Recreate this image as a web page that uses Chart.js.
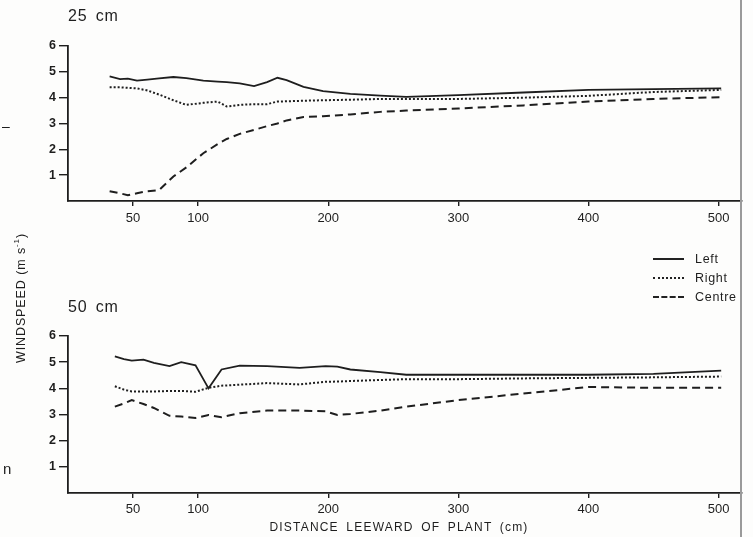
<!DOCTYPE html>
<html>
<head>
<meta charset="utf-8">
<script src="https://cdn.jsdelivr.net/npm/chart.js@4.4.1/dist/chart.umd.min.js"></script>
<style>
  html, body { margin: 0; padding: 0; background: #fdfdfc; }
  #page { position: relative; width: 753px; height: 537px; overflow: hidden; font-family: "Liberation Sans", Arial, sans-serif; color: #1e1e1e; }
  canvas { position: absolute; left: 0; }
  .lbl { position: absolute; white-space: nowrap; }
  .panel { font-size: 16px; letter-spacing: 0.8px; word-spacing: 3px; left: 68px; }
  #ytitle { font-size: 12.5px; letter-spacing: 0.9px; left: 20px; top: 298px; transform: translate(-50%, -50%) rotate(-90deg); }
  #xtitle { font-size: 12px; letter-spacing: 1.2px; word-spacing: 3px; left: 399px; top: 527px; transform: translate(-50%, -50%); }
  #legend { position: absolute; left: 653px; top: 249px; font-size: 12.5px; letter-spacing: 0.7px; }
  #legend div { height: 19px; display: flex; align-items: center; }
  #legend span.ln { display: inline-block; width: 31px; margin-right: 11px; border-top: 2px solid #222; }
  #edge { position: absolute; left: 740px; top: 0; width: 2px; height: 537px; background: #9a9a9a; }
</style>
</head>
<body>
<div id="page">
  <canvas id="topChart" width="753" height="228" style="top:0"></canvas>
  <canvas id="bottomChart" width="753" height="307" style="top:230px"></canvas>
  <div id="edge"></div>
  <div class="lbl panel" style="top:7px">25 cm</div>
  <div class="lbl panel" style="top:298px">50 cm</div>
  <div class="lbl" id="ytitle">WINDSPEED (m s<sup style="font-size:8px">-1</sup>)</div>
  <div class="lbl" id="xtitle">DISTANCE LEEWARD OF PLANT (cm)</div>
  <div class="lbl" style="left:3px; top:460px; font-size:15px">n</div>
  <div class="lbl" style="left:2px; top:118px; font-size:14px">–</div>
  <div id="legend">
    <div><span class="ln"></span>Left</div>
    <div><span class="ln" style="border-top-style:dotted"></span>Right</div>
    <div><span class="ln" style="border-top-style:dashed"></span>Centre</div>
  </div>
</div>
<script>
// valeurs (vitesse du vent en m/s)
const xTickValues = [50, 100, 200, 300, 400, 500];
const yTickValues = [0, 1, 2, 3, 4, 5, 6];

// panneau 25 cm
const dist25 = [32, 40, 46, 53, 61, 70, 81, 91, 104, 115, 122, 132, 143, 153, 161, 168, 181, 196, 217, 240, 260, 300, 350, 400, 450, 502];
const left25 = [4.82, 4.72, 4.74, 4.66, 4.7, 4.75, 4.8, 4.76, 4.66, 4.62, 4.6, 4.55, 4.45, 4.6, 4.77, 4.68, 4.42, 4.25, 4.15, 4.08, 4.03, 4.1, 4.2, 4.3, 4.33, 4.36];
const right25 = [4.4, 4.4, 4.38, 4.36, 4.28, 4.12, 3.9, 3.72, 3.8, 3.85, 3.66, 3.72, 3.75, 3.75, 3.85, 3.86, 3.88, 3.9, 3.92, 3.95, 3.95, 3.95, 4.0, 4.07, 4.22, 4.3];
const centre25 = [0.38, 0.3, 0.22, 0.3, 0.38, 0.42, 0.95, 1.3, 1.85, 2.2, 2.4, 2.6, 2.75, 2.9, 3.0, 3.12, 3.25, 3.28, 3.35, 3.45, 3.5, 3.58, 3.7, 3.85, 3.95, 4.02];

// panneau 50 cm
const dist50 = [36, 43, 49, 58, 66, 78, 87, 98, 108, 118, 132, 153, 178, 198, 207, 217, 240, 260, 300, 350, 400, 450, 502];
const left50 = [5.22, 5.12, 5.06, 5.1, 4.97, 4.85, 5.0, 4.88, 4.0, 4.72, 4.87, 4.85, 4.78, 4.85, 4.83, 4.72, 4.62, 4.52, 4.52, 4.52, 4.52, 4.55, 4.68];
const right50 = [4.08, 3.95, 3.88, 3.88, 3.88, 3.9, 3.9, 3.87, 4.02, 4.1, 4.14, 4.2, 4.15, 4.25, 4.26, 4.28, 4.32, 4.35, 4.35, 4.38, 4.4, 4.42, 4.45];
const centre50 = [3.3, 3.42, 3.55, 3.4, 3.25, 2.95, 2.92, 2.87, 2.98, 2.9, 3.05, 3.15, 3.15, 3.12, 2.98, 3.02, 3.15, 3.3, 3.55, 3.8, 4.05, 4.02, 4.02];

const INK = '#1e1e1e';

function toPoints(xs, ys) {
  return xs.map((x, i) => ({ x: x, y: ys[i] }));
}

function lineSet(label, xs, ys, dash) {
  return {
    label: label,
    data: toPoints(xs, ys),
    borderColor: INK,
    borderWidth: dash.length ? 2 : 1.8,
    borderDash: dash,
    pointRadius: 0,
    tension: 0,
    fill: false,
  };
}

// cria um painel; areaTop/axisY em pixels do canvas
function makePanel(id, xs, left, right, centre, areaTop, axisY, labelPad) {
  const canvas = document.getElementById(id);
  const H = canvas.height;
  return new Chart(canvas.getContext('2d'), {
    type: 'line',
    data: {
      datasets: [
        lineSet('Left', xs, left, []),
        lineSet('Right', xs, right, [2, 2]),
        lineSet('Centre', xs, centre, [8, 5]),
      ],
    },
    options: {
      responsive: false,
      animation: false,
      layout: { padding: { top: areaTop, right: 11, left: 0, bottom: 0 } },
      plugins: { legend: { display: false }, tooltip: { enabled: false } },
      scales: {
        x: {
          type: 'linear',
          min: 0,
          max: 518,
          afterBuildTicks: (s) => { s.ticks = xTickValues.map((v) => ({ value: v })); },
          afterFit: (s) => { s.height = H - axisY; },
          border: { display: true, color: INK, width: 1.8 },
          grid: { drawOnChartArea: false, drawTicks: true, tickLength: 5, color: INK, lineWidth: 1.4 },
          ticks: { color: INK, padding: labelPad, maxRotation: 0, font: { family: 'Liberation Sans', size: 13 } },
        },
        y: {
          min: 0,
          max: 6,
          afterBuildTicks: (s) => { s.ticks = yTickValues.map((v) => ({ value: v })); },
          afterFit: (s) => { s.width = 68; },
          border: { display: true, color: INK, width: 1.8 },
          grid: {
            drawOnChartArea: false,
            drawTicks: true,
            tickLength: 9,
            lineWidth: 1.4,
            color: (c) => (c.tick && c.tick.value === 0 ? 'rgba(0,0,0,0)' : INK),
          },
          ticks: {
            color: INK,
            padding: 3,
            font: { family: 'Liberation Sans', size: 12.5, weight: 'bold' },
            callback: (v) => (v === 0 ? '' : v),
          },
        },
      },
    },
  });
}

makePanel('topChart', dist25, left25, right25, centre25, 46, 201, 5);
makePanel('bottomChart', dist50, left50, right50, centre50, 106, 263, 4);
</script>
</body>
</html>
